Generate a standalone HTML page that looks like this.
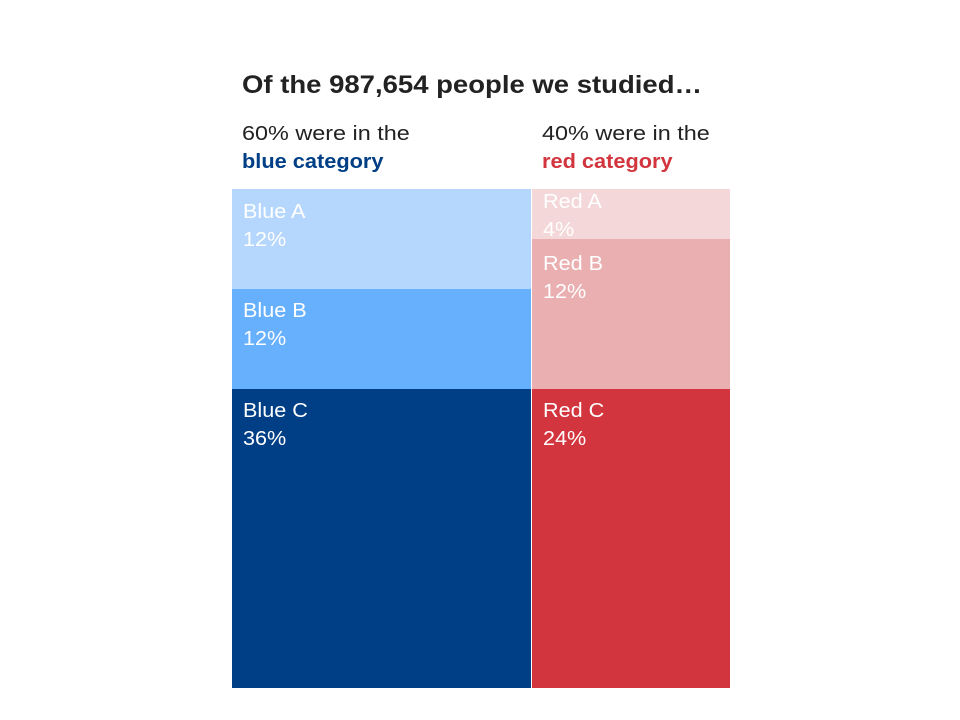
<!DOCTYPE html>
<html><head><style>
body{margin:0;width:960px;height:720px;background:#fff;font-family:"Liberation Sans",sans-serif;position:relative;overflow:hidden}
div{position:absolute}
.t{color:#fff;font-size:20px;line-height:28px;transform:scaleX(1.08);transform-origin:left top}
.h{font-size:20px;line-height:28px;color:#222;transform:scaleX(1.17);transform-origin:left top}
</style></head><body>
<div style="left:242px;top:71px;font-size:25px;font-weight:bold;color:#222;transform:scaleX(1.1);transform-origin:left top;white-space:nowrap">Of the 987,654 people we studied…</div>
<div class="h" style="left:242px;top:120px;white-space:nowrap">60% were in the<br><b style="color:#003f86;display:inline-block;transform:scaleX(0.93);transform-origin:left">blue category</b></div>
<div class="h" style="left:542px;top:120px;white-space:nowrap">40% were in the<br><b style="color:#d2353d;display:inline-block;transform:scaleX(0.93);transform-origin:left">red category</b></div>
<div style="left:232px;top:189px;width:299px;height:100px;background:#b6d7fd"></div>
<div style="left:232px;top:289px;width:299px;height:100px;background:#66b0fd"></div>
<div style="left:232px;top:389px;width:299px;height:299px;background:#003f86"></div>
<div style="left:532px;top:189px;width:198px;height:50px;background:#f4d7d8"></div>
<div style="left:532px;top:239px;width:198px;height:150px;background:#e9afb1"></div>
<div style="left:532px;top:389px;width:198px;height:299px;background:#d2353d"></div>
<div class="t" style="left:243px;top:198px">Blue A<br>12%</div>
<div class="t" style="left:243px;top:297px">Blue B<br>12%</div>
<div class="t" style="left:243px;top:397px">Blue C<br>36%</div>
<div class="t" style="left:543px;top:188px">Red A<br>4%</div>
<div class="t" style="left:543px;top:250px">Red B<br>12%</div>
<div class="t" style="left:543px;top:397px">Red C<br>24%</div>
</body></html>
